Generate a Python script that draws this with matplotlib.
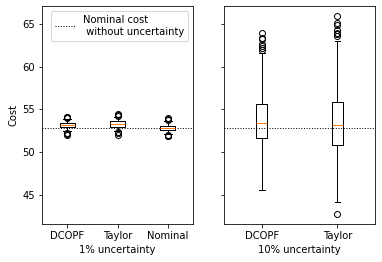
import matplotlib
matplotlib.use("Agg")
from matplotlib import pyplot as plt

# box statistics
nominal_cost = 52.85

labels_1 = ['DCOPF', 'Taylor', 'Nominal']
med_1 = [53.15, 53.25, 52.83]
q1_1 = [52.93, 52.97, 52.58]
q3_1 = [53.40, 53.62, 53.06]
whislo_1 = [52.45, 52.45, 52.15]
whishi_1 = [53.85, 54.10, 53.65]
fliers_1 = [
    [54.0, 54.1, 54.15, 52.3, 52.15, 52.05],
    [54.25, 54.35, 54.45, 52.35, 52.2, 52.05],
    [53.8, 53.9, 54.0, 52.05, 51.95, 51.85],
]

labels_10 = ['DCOPF', 'Taylor']
med_10 = [53.45, 53.22]
q1_10 = [51.63, 50.90]
q3_10 = [55.66, 55.93]
whislo_10 = [45.55, 44.15]
whishi_10 = [61.66, 63.00]
fliers_10 = [
    [63.9, 63.4, 63.2, 62.7, 62.4, 62.2, 62.0],
    [65.9, 65.1, 64.9, 64.3, 64.0, 63.8, 63.6, 42.75],
]


def make_stats(labels, med, q1, q3, lo, hi, fl):
    stats = []
    for i in range(len(labels)):
        stats.append(dict(label=labels[i], med=med[i], q1=q1[i], q3=q3[i],
                          whislo=lo[i], whishi=hi[i], fliers=fl[i]))
    return stats


# drawn at 72 dpi so that the default sizes match the reference
fig, (ax1, ax2) = plt.subplots(1, 2, sharey=True, figsize=(382 / 72, 262 / 72), dpi=72)
fig.subplots_adjust(left=0.11, right=0.982, top=0.977, bottom=0.145, wspace=0.205)

ax1.bxp(make_stats(labels_1, med_1, q1_1, q3_1, whislo_1, whishi_1, fliers_1))
ax1.axhline(nominal_cost, color='black', linestyle=':', linewidth=1,
            label='Nominal cost\n without uncertainty')
ax1.set_xlabel('1% uncertainty')
ax1.set_ylabel('Cost')
ax1.legend(loc='upper right')

ax2.bxp(make_stats(labels_10, med_10, q1_10, q3_10, whislo_10, whishi_10, fliers_10))
ax2.axhline(nominal_cost, color='black', linestyle=':', linewidth=1)
ax2.set_xlabel('10% uncertainty')

ax1.set_ylim(41.6, 67.1)

fig.savefig('out.png', dpi=72)
